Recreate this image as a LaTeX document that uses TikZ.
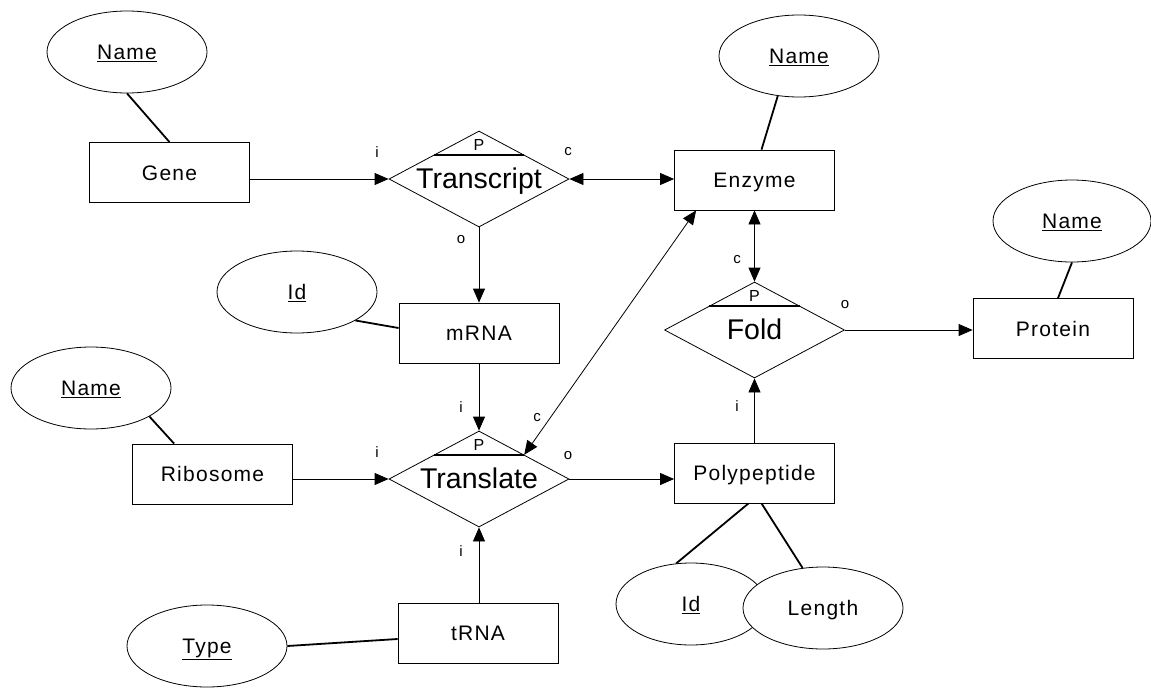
\documentclass[tikz,border=0pt]{standalone}
\usepackage{fontspec}
\setmainfont{Liberation Sans}
\newfontfamily\spacedfont[LetterSpace=6]{Liberation Sans}
\usetikzlibrary{shapes.geometric,arrows.meta,calc}
\begin{document}
\begin{tikzpicture}[x=1pt,y=-1pt,
  entity/.style={draw,line width=0.8pt,minimum width=160pt,minimum height=60pt,inner sep=0pt,
    text height=15pt,text depth=0pt,font=\spacedfont\fontsize{21}{24}\selectfont},
  attr/.style={ellipse,draw,fill=white,line width=0.8pt,minimum width=160pt,minimum height=82pt,inner sep=0pt,
    text height=15pt,text depth=0pt,font=\spacedfont\fontsize{21}{24}\selectfont},
  rel/.style={diamond,draw,line width=0.8pt,minimum width=180pt,minimum height=96pt,inner sep=0pt},
  reltext/.style={anchor=base,inner sep=0pt,font=\fontsize{28.5}{32}\selectfont},
  ptext/.style={inner sep=0pt,font=\fontsize{16}{18}\selectfont},
  card/.style={inner sep=0pt,font=\fontsize{15}{17}\selectfont},
  arr/.style={line width=0.8pt,-{Triangle[length=14pt,width=12pt]}},
  darr/.style={line width=0.8pt,{Triangle[length=14pt,width=12pt]}-{Triangle[length=14pt,width=12pt]}},
  link/.style={line width=1.8pt}]
\useasboundingbox (0,0) rectangle (1151,688);

% entities
\node[entity] (gene) at (169.5,172.5) {Gene};
\node[entity] (enz) at (754.5,180) {Enzyme};
\node[entity] (mrna) at (479,333) {mRNA};
\node[entity] (rib) at (212.5,474) {Ribosome};
\node[entity] (trna) at (478,633) {tRNA};
\node[entity] (prot) at (1053,328.5) {Protein};
\node[entity] (poly) at (754.5,473) {Polypeptide};

% attributes
\node[attr] (geneName) at (127,52) {\underline{Name}};
\node[attr] (enzName) at (799,56) {\underline{Name}};
\node[attr] (mrnaId) at (297,292) {\underline{Id}};
\node[attr] (ribName) at (91,388) {\underline{Name}};
\node[attr] (type) at (207,646) {\underline{Type}};
\node[attr,minimum width=158pt] (protName) at (1072,221) {\underline{Name}};
\node[attr,minimum width=150pt] (polyId) at (691,604) {\underline{Id}};
\node[attr] (polyLen) at (823,608) {Length};

% relationships
\node[rel] (tr) at (479,179) {};
\node[rel] (tl) at (479,479) {};
\node[rel] (fold) at (754.5,330) {};
\foreach \r/\t in {tr/Transcript,tl/Translate,fold/Fold}{
  \node[reltext] (\r-name) at ($(\r.center)+(0,9)$) {\t};
  \node[ptext] (\r-p) at ($(\r.center)+(0,-34)$) {P};
  \draw[line width=1.8pt] ($(\r.north)!0.5!(\r.west)$) -- ($(\r.north)!0.5!(\r.east)$);
}

% attribute links
\draw[link] (geneName.south) -- (gene.north);
\draw[link] (enzName.242) -- ($(enz.north)+(7,0)$);
\draw[link] (mrnaId.-26) -- ($(mrna.west)+(0,-5)$);
\draw[link] (ribName.-26) -- ($(rib.north west)+(42,0)$);
\draw[link] (type.east) -- ($(trna.west)+(0,6)$);
\draw[link] (protName.south) -- ($(prot.north)+(5,0)$);
\draw[link] ($(poly.south)+(-6,0)$) -- (polyId.110);
\draw[link] ($(poly.south)+(7,0)$) -- (polyLen.117);

% relationship links
\draw[arr] (gene.east |- tr.west) -- (tr.west);
\draw[darr] (tr.east) -- (enz.west |- tr.east);
\draw[arr] (tr.south) -- (mrna.north);
\draw[arr] (mrna.south) -- (tl.north);
\draw[arr] (rib.east |- tl.west) -- (tl.west);
\draw[arr] (tl.east) -- (poly.west |- tl.east);
\draw[arr] (tl.south |- trna.north) -- (tl.south);
\draw[darr] ($(tl.north)!0.5!(tl.east)$) -- ($(enz.south west)+(22,0)$);
\draw[darr] (enz.south) -- (fold.north);
\draw[arr] (fold.east) -- (prot.west |- fold.east);
\draw[arr] (poly.north) -- (fold.south);

% cardinality marks
\node[card] (c1) at (377,152) {i};
\node[card] (c2) at (568,152) {c};
\node[card] (c3) at (461,240) {o};
\node[card] (c4) at (461,407) {i};
\node[card] (c5) at (377,452) {i};
\node[card] (c6) at (537,418) {c};
\node[card] (c7) at (568,456) {o};
\node[card] (c8) at (461,551) {i};
\node[card] (c9) at (737,260) {c};
\node[card] (c10) at (845,305) {o};
\node[card] (c11) at (737,406) {i};
\end{tikzpicture}
\end{document}
